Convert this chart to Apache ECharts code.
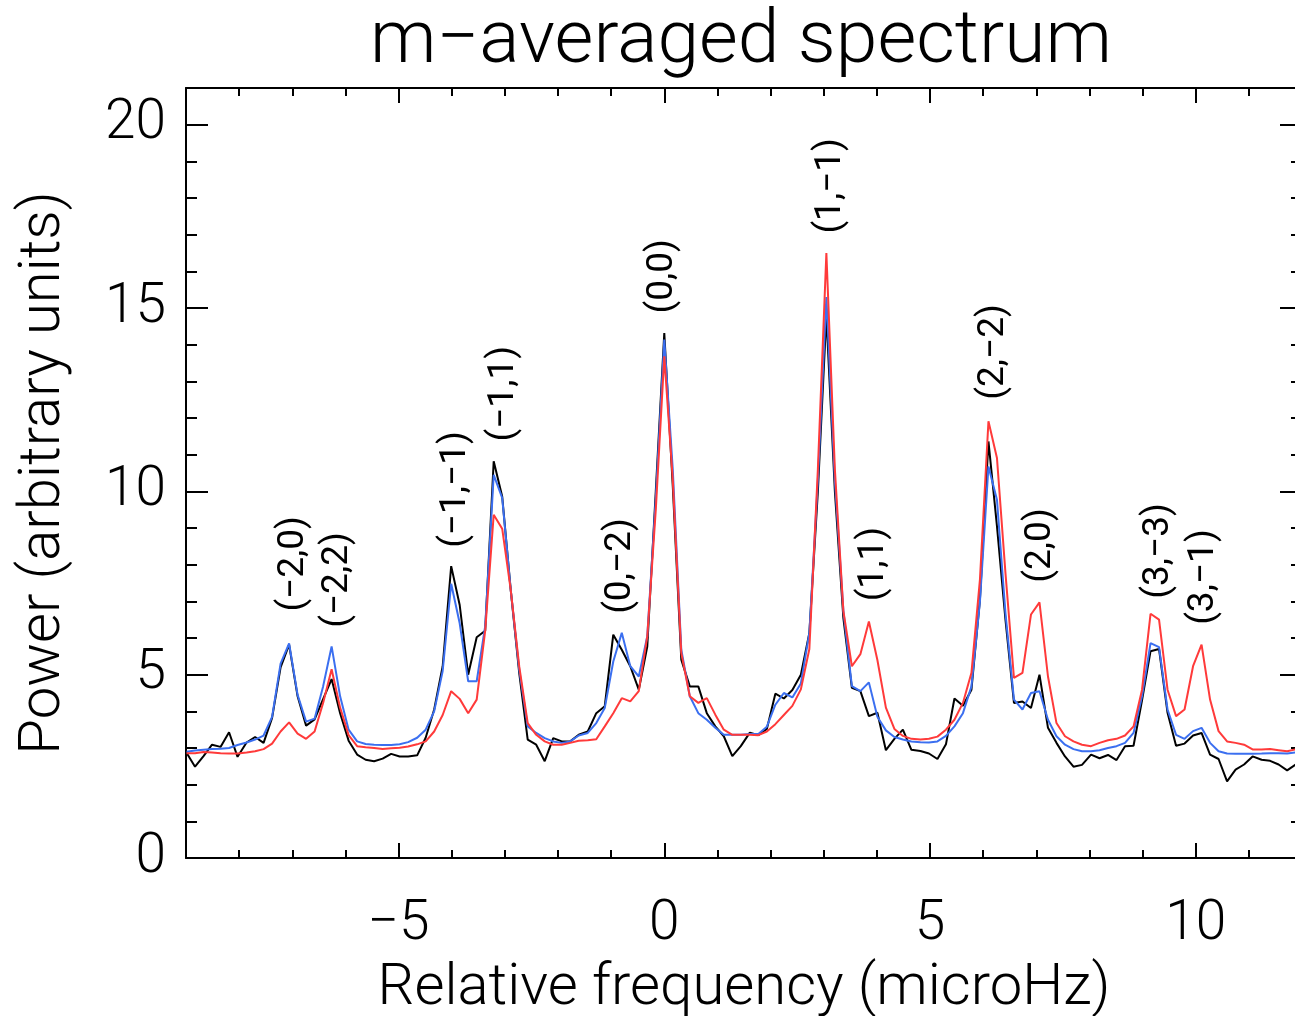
<!DOCTYPE html>
<html><head><meta charset="utf-8">
<script src="https://cdn.jsdelivr.net/npm/echarts@6/dist/echarts.min.js"></script>
<style>html,body{margin:0;padding:0;background:#fff;overflow:hidden}#c{width:1295px;height:1016px}</style>
</head><body><div id="c"></div>
<script>
// Relative frequency (microHz), one bin per point
const freq = [-8.99,-8.83,-8.67,-8.51,-8.35,-8.19,-8.03,-7.86,-7.70,-7.54,-7.38,-7.22,-7.06,-6.90,-6.74,-6.58,-6.42,-6.26,-6.10,-5.94,-5.78,-5.62,-5.46,-5.30,-5.14,-4.98,-4.82,-4.65,-4.49,-4.33,-4.17,-4.01,-3.85,-3.69,-3.53,-3.37,-3.21,-3.05,-2.89,-2.73,-2.57,-2.41,-2.25,-2.09,-1.93,-1.77,-1.61,-1.44,-1.28,-1.12,-0.96,-0.80,-0.64,-0.48,-0.32,-0.16,0,0.16,0.32,0.48,0.64,0.80,0.96,1.12,1.28,1.44,1.61,1.77,1.93,2.09,2.25,2.41,2.57,2.73,2.89,3.05,3.21,3.37,3.53,3.69,3.85,4.01,4.17,4.33,4.49,4.65,4.82,4.98,5.14,5.30,5.46,5.62,5.78,5.94,6.10,6.26,6.42,6.58,6.74,6.90,7.06,7.22,7.38,7.54,7.70,7.86,8.03,8.19,8.35,8.51,8.67,8.83,8.99,9.15,9.31,9.47,9.63,9.79,9.95,10.11,10.27,10.43,10.59,10.75,10.91,11.07,11.24,11.40,11.56,11.72,11.88,12.04];
// black curve
const powerBlack = [2.87,2.49,2.78,3.09,3.03,3.43,2.76,3.15,3.30,3.14,3.82,5.20,5.82,4.41,3.61,3.78,4.33,4.88,3.95,3.20,2.82,2.68,2.64,2.71,2.84,2.77,2.77,2.80,3.28,4.05,5.23,7.96,6.90,5.00,6.02,6.20,10.82,9.86,7.32,5.05,3.23,3.09,2.64,3.27,3.18,3.18,3.36,3.45,3.95,4.14,6.09,5.68,5.23,4.59,5.77,10.0,14.32,10.13,5.41,4.68,4.68,3.95,3.59,3.32,2.78,3.05,3.42,3.35,3.52,4.48,4.35,4.58,5.0,6.14,10.0,14.8,10.0,6.54,4.64,4.55,3.87,3.96,2.94,3.25,3.50,2.95,2.92,2.85,2.70,3.10,4.35,4.15,4.59,7.05,11.36,9.05,6.50,4.23,4.27,4.09,5.00,3.55,3.14,2.77,2.49,2.54,2.82,2.72,2.81,2.67,3.05,3.06,4.30,5.64,5.70,3.96,3.06,3.12,3.34,3.41,2.82,2.70,2.09,2.41,2.55,2.77,2.68,2.65,2.55,2.39,2.55,2.62];
// blue curve
const powerBlue = [2.90,2.93,2.95,2.97,2.98,3.00,3.08,3.15,3.23,3.34,3.85,5.30,5.85,4.45,3.72,3.80,4.68,5.77,4.41,3.50,3.18,3.11,3.09,3.08,3.08,3.10,3.16,3.28,3.50,4.00,5.10,7.48,6.40,4.82,4.82,6.32,10.45,9.82,7.32,5.14,3.59,3.41,3.27,3.18,3.14,3.18,3.34,3.41,3.68,4.09,5.36,6.14,5.23,4.95,6.05,9.8,14.14,10.59,5.68,4.41,3.95,3.77,3.55,3.36,3.36,3.36,3.38,3.38,3.58,4.18,4.50,4.38,4.76,6.14,10.3,15.3,10.3,6.74,4.69,4.55,4.79,3.85,3.48,3.30,3.23,3.18,3.16,3.15,3.18,3.33,3.59,3.95,4.68,7.00,10.68,9.77,6.68,4.32,4.05,4.50,4.55,3.77,3.32,3.09,2.97,2.91,2.91,2.94,3.00,3.05,3.14,3.41,4.41,5.86,5.75,4.05,3.36,3.25,3.46,3.55,3.14,2.91,2.85,2.84,2.84,2.84,2.85,2.86,2.86,2.85,2.88,2.88];
// red curve
const powerRed = [2.86,2.86,2.89,2.88,2.86,2.85,2.85,2.88,2.91,2.97,3.12,3.45,3.70,3.39,3.25,3.45,4.23,5.15,4.10,3.35,3.05,3.02,3.00,2.97,2.99,3.01,3.04,3.10,3.18,3.45,3.90,4.55,4.34,3.95,4.32,6.20,9.36,8.98,7.32,5.23,3.68,3.36,3.18,3.09,3.09,3.14,3.20,3.21,3.24,3.59,3.95,4.36,4.27,4.55,6.05,9.5,13.68,10.32,5.59,4.41,4.23,4.36,3.91,3.50,3.36,3.36,3.36,3.35,3.45,3.65,3.90,4.15,4.60,5.70,10.6,16.5,10.6,6.74,5.23,5.56,6.45,5.40,4.10,3.52,3.33,3.25,3.23,3.25,3.31,3.50,3.77,4.23,5.05,7.60,11.91,10.91,7.77,4.91,5.05,6.64,6.97,4.95,3.68,3.32,3.18,3.09,3.05,3.14,3.21,3.25,3.34,3.59,4.59,6.66,6.50,4.59,3.87,4.05,5.23,5.82,4.32,3.46,3.18,3.14,3.09,2.96,2.96,2.97,2.94,2.91,2.96,2.95];
// mode annotations (n, m): label, frequency, power where the label starts
const modeLabels = ['(−2,0)','(−2,2)','(−1,−1)','(−1,1)','(0,−2)','(0,0)','(1,−1)','(1,1)','(2,−2)','(2,0)','(3,−3)','(3,−1)'];
const modeFreq = [-6.97,-6.14,-3.92,-3.02,-0.82,-0.02,3.14,3.94,6.20,7.09,9.31,10.15];
const modePower = [6.72,6.28,8.46,11.36,6.66,14.85,17.03,7.0,12.50,7.51,7.07,6.36];
// ticks
const xTickLabels = [-5,0,5,10];
const xMinorTicks = [-8,-7,-6,-4,-3,-2,-1,1,2,3,4,6,7,8,9,11];
const yTickLabels = [0,5,10,15,20];
const yMinorTicks = [1,2,3,4,6,7,8,9,11,12,13,14,16,17,18,19];

const FONT = 'Roboto, "DejaVu Sans", sans-serif';
const fmt = v => String(v).replace('-', '−');
const chart = echarts.init(document.getElementById('c'), null, {renderer: 'canvas'});

function xAx(pos, vals, len, labels, line) {
  return {
    type: 'value', min: -9, max: 12, position: pos,
    axisLine: {show: line, onZero: false, lineStyle: {color: '#000', width: 2}},
    axisTick: {show: true, inside: true, length: len, customValues: vals, lineStyle: {color: '#000', width: 2}},
    axisLabel: labels ? {show: true, customValues: xTickLabels, formatter: fmt, fontSize: 55, fontWeight: 300, fontFamily: FONT, color: '#000', margin: 40} : {show: false},
    splitLine: {show: false}
  };
}
function yAx(pos, vals, len, labels, line) {
  return {
    type: 'value', min: 0, max: 21, position: pos,
    axisLine: {show: line, onZero: false, lineStyle: {color: '#000', width: 2}},
    axisTick: {show: true, inside: true, length: len, customValues: vals, lineStyle: {color: '#000', width: 2}},
    axisLabel: labels ? {show: true, customValues: yTickLabels, formatter: fmt, fontSize: 55, fontWeight: 300, fontFamily: FONT, color: '#000', margin: 20} : {show: false},
    splitLine: {show: false}
  };
}

const xAxes = [
  xAx('bottom', xTickLabels, 15, true, true),
  xAx('bottom', xMinorTicks, 8, false, false),
  xAx('top', xTickLabels, 15, false, true),
  xAx('top', xMinorTicks, 8, false, false)
];
Object.assign(xAxes[0], {name: 'Relative frequency (microHz)', nameLocation: 'middle', nameGap: 102,
  nameTextStyle: {fontSize: 58, fontWeight: 300, fontFamily: FONT, color: '#000'}});
const yAxes = [
  yAx('left', yTickLabels, 22, true, true),
  yAx('left', yMinorTicks, 11, false, false),
  yAx('right', yTickLabels, 22, false, true),
  yAx('right', yMinorTicks, 11, false, false)
];
Object.assign(yAxes[0], {name: 'Power (arbitrary units)', nameLocation: 'middle', nameGap: 113,
  nameTextStyle: {fontSize: 58, fontWeight: 300, fontFamily: FONT, color: '#000'}});

function line(vals, color, z) {
  return {type: 'line', data: freq.map((f, i) => [f, vals[i]]), showSymbol: false, symbol: 'none',
    lineStyle: {color: color, width: 2}, z: z, animation: false, silent: true};
}

chart.setOption({
  animation: false,
  backgroundColor: '#fff',
  grid: {left: 186, top: 88, width: 1116, height: 770, containLabel: false, outerBoundsMode: 'none'},
  graphic: [{type: 'text', x: 741, y: 43, style: {text: 'm−averaged spectrum', fill: '#000',
    font: '300 75px ' + FONT, textAlign: 'center', textVerticalAlign: 'middle'}}],
  xAxis: xAxes,
  yAxis: yAxes,
  series: [
    line(powerBlack, '#000000', 2),
    line(powerBlue, '#3b6ff0', 3),
    line(powerRed, '#ff3a3a', 4),
    {type: 'scatter', symbolSize: 0.1, itemStyle: {color: 'rgba(0,0,0,0)'}, z: 5, silent: true,
      data: modeFreq.map((f, i) => ({value: [f, modePower[i]], label: {formatter: modeLabels[i]}})),
      label: {show: true, position: 'inside', rotate: 90, align: 'left', verticalAlign: 'middle',
        fontSize: 37, fontWeight: 400, fontFamily: FONT, color: '#000', opacity: 1}}
  ]
});
</script>
</body></html>
